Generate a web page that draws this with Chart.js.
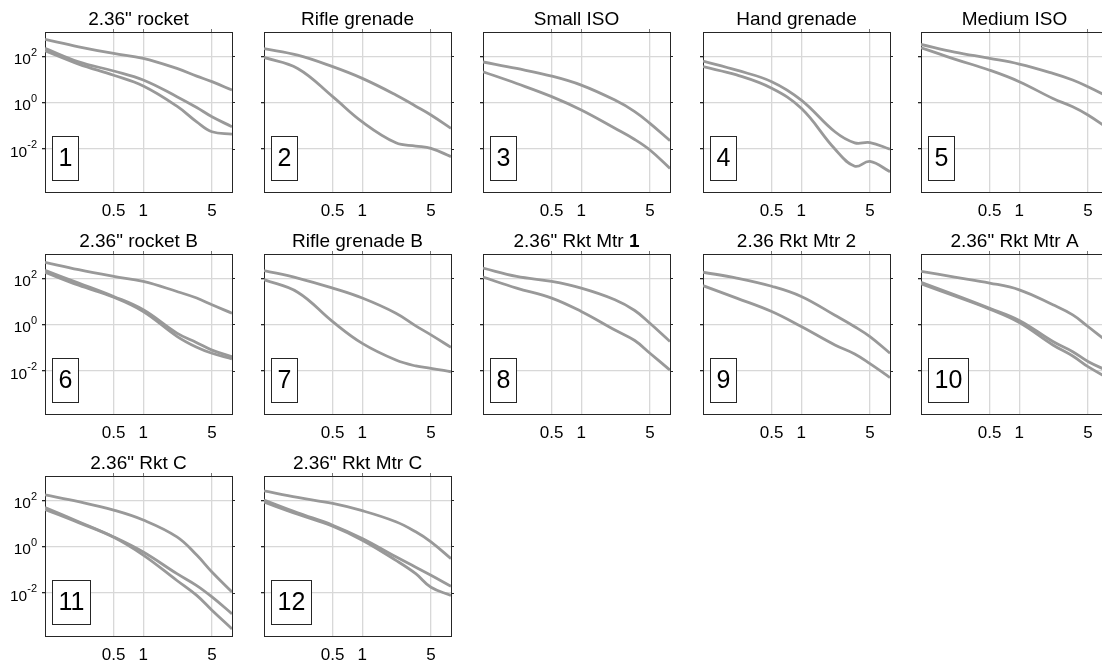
<!DOCTYPE html>
<html>
<head>
<meta charset="utf-8">
<script src="https://cdn.jsdelivr.net/npm/chart.js@4.4.1/dist/chart.umd.min.js"></script>
<style>
  html, body { margin: 0; padding: 0; background: #fff; }
  body { width: 1102px; height: 662px; overflow: hidden; position: relative; }
  .panel { position: absolute; width: 244px; height: 222px; }
  .panel canvas { display: block; }
</style>
</head>
<body>
<script>
// ---- data -------------------------------------------------------------
// Scaled distance (x) at which every curve is sampled
const xValues = [0.1, 0.22, 0.5, 1, 2.2, 3.5, 5, 8];

const xTickValues = [0.5, 1, 5];
const yTickValues = [1e-2, 1, 1e2];
const yTickExponents = ['-2', '0', '2'];

const panelTitles = [
  '2.36" rocket', 'Rifle grenade', 'Small ISO', 'Hand grenade', 'Medium ISO',
  '2.36" rocket B', 'Rifle grenade B', '2.36" Rkt Mtr 1', '2.36 Rkt Mtr 2', '2.36" Rkt Mtr A',
  '2.36" Rkt C', '2.36" Rkt Mtr C'
];
// last word of the title set in bold
const titleBoldTail = [false, false, false, false, false, false, false, true, false, false, false, false];
const panelNumbers = ['1', '2', '3', '4', '5', '6', '7', '8', '9', '10', '11', '12'];

const panel1 = [
  [562, 269, 138, 85, 31, 14.5, 8.3, 3.6],
  [229, 60, 24, 9.8, 1.86, 0.63, 0.25, 0.093],
  [182, 48, 15.8, 5.4, 0.72, 0.15, 0.056, 0.044]
];
const panel2 = [
  [224, 117, 37, 11.5, 2.2, 0.72, 0.30, 0.079],
  [93, 31, 1.86, 0.15, 0.0186, 0.0135, 0.0107, 0.0047]
];
const panel3 = [
  [59, 31, 14.5, 5.9, 1.32, 0.42, 0.129, 0.023],
  [22.4, 6.9, 1.86, 0.49, 0.079, 0.026, 0.0091, 0.00145]
];
const panel4 = [
  [65, 26, 8.3, 1.32, 0.056, 0.0186, 0.019, 0.0098],
  [37, 16.2, 4.3, 0.58, 0.01, 0.0018, 0.0029, 0.00105]
];
const panel5 = [
  [339, 158, 85, 48, 19, 9.8, 5.0, 1.86],
  [245, 79, 26, 8.3, 1.55, 0.68, 0.30, 0.079]
];
const panel6 = [
  [513, 245, 126, 76, 28, 14.5, 7.4, 3.2],
  [229, 65, 17, 4.5, 0.44, 0.17, 0.081, 0.042],
  [191, 52, 15.8, 3.8, 0.32, 0.107, 0.059, 0.034]
];
const panel7 = [
  [224, 107, 39, 14.5, 3.2, 0.91, 0.37, 0.107],
  [91, 26, 1.38, 0.158, 0.030, 0.0166, 0.0132, 0.0093]
];
const panel8 = [
  [288, 126, 76, 39, 12.3, 4.2, 1.17, 0.19],
  [117, 39, 14.5, 3.8, 0.60, 0.21, 0.059, 0.011]
];
const panel9 = [
  [191, 107, 47, 17, 2.6, 0.83, 0.31, 0.059],
  [50, 14.5, 3.8, 0.85, 0.135, 0.055, 0.021, 0.0052]
];
const panel10 = [
  [209, 117, 65, 33, 7.4, 2.7, 0.85, 0.178],
  [69, 20, 5.2, 1.55, 0.19, 0.069, 0.026, 0.01],
  [60, 17.8, 4.8, 1.26, 0.135, 0.045, 0.0155, 0.005]
];
const panel11 = [
  [178, 91, 39, 14.5, 2.7, 0.44, 0.081, 0.011],
  [51, 12.3, 2.7, 0.60, 0.069, 0.021, 0.0068, 0.00126],
  [42, 11.2, 2.6, 0.44, 0.035, 0.0079, 0.0018, 0.00028]
];
const panel12 = [
  [269, 138, 76, 37, 12.3, 4.5, 1.66, 0.31],
  [107, 30, 8.7, 2.3, 0.37, 0.132, 0.059, 0.0195],
  [87, 26, 7.9, 1.95, 0.26, 0.069, 0.0178, 0.0079]
];
const panelCurves = [panel1, panel2, panel3, panel4, panel5, panel6,
                     panel7, panel8, panel9, panel10, panel11, panel12];

// ---- layout & style ---------------------------------------------------
const X_MIN = 0.1, X_MAX = 8;
const Y_MIN = 1.38e-4, Y_MAX = 1175;
const colLefts = [45, 264, 483, 703, 921];   // plot-area left edges
const rowTops = [32, 254, 476];              // plot-area top edges
const PAD_LEFT = 45, PAD_TOP = 32, PAD_RIGHT = 12, PAD_BOTTOM = 30;
const CANVAS_W = 244, CANVAS_H = 222;

const FONT = "'Liberation Sans', Arial, Helvetica, sans-serif";
const FRAME = '#262626';
const GRID = '#d8d8d8';
const CURVE = '#999999';

const frameBorder = { display: true, color: FRAME, width: 1 };
const setTicks = values => scale => { scale.ticks = values.map(v => ({ value: v })); };

// titles, numbered boxes and y-axis power labels
const panelDecor = {
  id: 'panelDecor',
  afterDraw(chart, args, opts) {
    const { ctx, chartArea: a } = chart;
    ctx.save();

    // title, centred over the plot area
    const title = opts.title;
    const cx = (a.left + a.right) / 2;
    const ty = a.top - 7.5;
    const normalFont = `19px ${FONT}`;
    const boldFont = `bold 19px ${FONT}`;
    let parts = [[title, normalFont]];
    if (opts.boldTail) {
      const cut = title.lastIndexOf(' ') + 1;
      parts = [[title.slice(0, cut), normalFont], [title.slice(cut), boldFont]];
    }
    let total = 0;
    parts.forEach(p => { ctx.font = p[1]; total += ctx.measureText(p[0]).width; });
    let tx = cx - total / 2;
    ctx.fillStyle = '#000';
    ctx.textAlign = 'left';
    ctx.textBaseline = 'alphabetic';
    parts.forEach(p => { ctx.font = p[1]; ctx.fillText(p[0], tx, ty); tx += ctx.measureText(p[0]).width; });

    // panel number in a framed box, lower-left corner
    ctx.font = `25px ${FONT}`;
    const nw = ctx.measureText(opts.number).width;
    const bw = Math.round(nw + 12), bh = 44;
    const bx = Math.round(a.left + 7), by = Math.round(a.bottom - 12 - bh);
    ctx.fillStyle = '#fff';
    ctx.fillRect(bx, by, bw, bh);
    ctx.strokeStyle = FRAME;
    ctx.lineWidth = 1;
    ctx.strokeRect(bx + 0.5, by + 0.5, bw, bh);
    ctx.fillStyle = '#000';
    ctx.textAlign = 'center';
    ctx.textBaseline = 'middle';
    ctx.fillText(opts.number, bx + bw / 2 + 0.5, by + bh / 2 + 1);

    // powers of ten on the left axis
    if (opts.yLabels) {
      const ys = chart.scales.y;
      const right = a.left - 8;
      ctx.textBaseline = 'alphabetic';
      ctx.textAlign = 'right';
      yTickValues.forEach((v, k) => {
        const py = ys.getPixelForValue(v);
        ctx.font = `11px ${FONT}`;
        const ew = ctx.measureText(yTickExponents[k]).width;
        ctx.fillText(yTickExponents[k], right, py - 1);
        ctx.font = `15.5px ${FONT}`;
        ctx.fillText('10', right - ew, py + 7.5);
      });
    }
    ctx.restore();
  }
};

panelCurves.forEach((curves, i) => {
  const col = i % 5, row = Math.floor(i / 5);
  const holder = document.createElement('div');
  holder.className = 'panel';
  holder.style.left = (colLefts[col] - PAD_LEFT) + 'px';
  holder.style.top = (rowTops[row] - PAD_TOP) + 'px';
  const canvas = document.createElement('canvas');
  canvas.width = CANVAS_W;
  canvas.height = CANVAS_H;
  holder.appendChild(canvas);
  document.body.appendChild(holder);

  new Chart(canvas, {
    type: 'line',
    data: {
      datasets: curves.map(ys => ({
        data: xValues.map((x, k) => ({ x: x, y: ys[k] })),
        borderColor: CURVE,
        borderWidth: 2.8,
        pointRadius: 0,
        fill: false,
        tension: 0.4
      }))
    },
    options: {
      responsive: false,
      animation: false,
      devicePixelRatio: 1,
      events: [],
      layout: { padding: 0, autoPadding: false },
      plugins: {
        legend: { display: false },
        tooltip: { enabled: false },
        title: { display: false },
        panelDecor: {
          title: panelTitles[i],
          boldTail: titleBoldTail[i],
          number: panelNumbers[i],
          yLabels: col === 0
        }
      },
      scales: {
        x: {
          type: 'logarithmic', position: 'bottom', min: X_MIN, max: X_MAX,
          afterBuildTicks: setTicks(xTickValues),
          afterFit: s => { s.height = PAD_BOTTOM; },
          grid: { color: GRID, lineWidth: 1.3, drawTicks: false },
          border: frameBorder,
          ticks: {
            color: '#000', font: { family: FONT, size: 17 }, padding: 9,
            maxRotation: 0, autoSkip: false, callback: v => String(v)
          }
        },
        x2: {
          type: 'logarithmic', position: 'top', min: X_MIN, max: X_MAX,
          afterBuildTicks: setTicks(xTickValues),
          afterFit: s => { s.height = PAD_TOP; },
          grid: { drawOnChartArea: false, drawTicks: true, tickLength: 3, tickColor: '#777', lineWidth: 1 },
          border: frameBorder,
          ticks: { display: false }
        },
        y: {
          type: 'logarithmic', position: 'left', min: Y_MIN, max: Y_MAX,
          afterBuildTicks: setTicks(yTickValues),
          afterFit: s => { s.width = PAD_LEFT; },
          grid: { color: GRID, lineWidth: 1.3, drawTicks: true, tickLength: 3, tickColor: FRAME },
          border: frameBorder,
          ticks: { display: false }
        },
        y2: {
          type: 'logarithmic', position: 'right', min: Y_MIN, max: Y_MAX,
          afterBuildTicks: setTicks(yTickValues),
          afterFit: s => { s.width = PAD_RIGHT; },
          grid: { drawOnChartArea: false, drawTicks: true, tickLength: 3, tickColor: FRAME, lineWidth: 1 },
          border: frameBorder,
          ticks: { display: false }
        }
      }
    },
    plugins: [panelDecor]
  });
});
</script>
</body>
</html>
